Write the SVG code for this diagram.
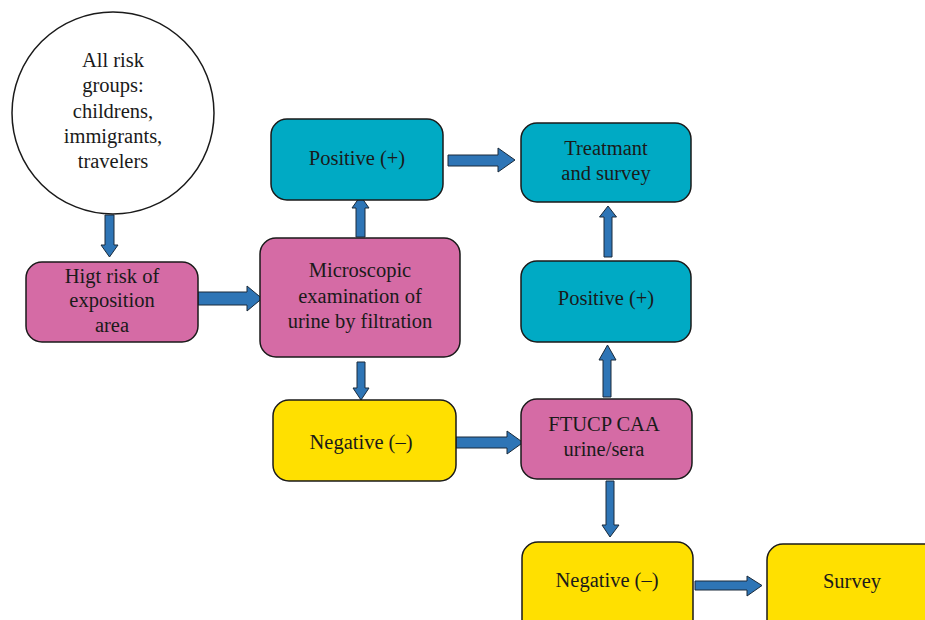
<svg xmlns="http://www.w3.org/2000/svg" width="925" height="620" viewBox="0 0 925 620">
<defs>
<style>
.box{stroke:#1a1a1a;stroke-width:1.5}
.pink{fill:#D56BA5}
.cyan{fill:#00AAC4}
.yellow{fill:#FFE000}
.white{fill:#ffffff}
.arrow{fill:#2E75B6;stroke:#1a2a3a;stroke-width:1}
text{font-family:"Liberation Serif","Times New Roman",serif;font-size:20.5px;fill:#1a1a1a;text-anchor:middle}
</style>
</defs>
<rect width="925" height="620" fill="#ffffff"/>
<g id="connectors">
<polygon class="arrow" points="105,215 114,215 114,245 118,245 109.5,257 101,245 105,245"/>
<polygon class="arrow" points="198,292 247,292 247,286 262,298.5 247,311 247,305 198,305"/>
<polygon class="arrow" points="356,237 356,208 352,208 360.5,196 369,208 365,208 365,237"/>
<polygon class="arrow" points="448,155 498,155 498,148 515,160 498,172 498,166 448,166"/>
<polygon class="arrow" points="604,257 604,217 599.5,217 608,206 616.5,217 612,217 612,257"/>
<polygon class="arrow" points="357,362 365,362 365,388 369,388 361,400 353,388 357,388"/>
<polygon class="arrow" points="456,437 507,437 507,431 523,442.5 507,454 507,448 456,448"/>
<polygon class="arrow" points="603,397 603,360 599,360 607.5,345 616,360 611,360 611,397"/>
<polygon class="arrow" points="606,481 614,481 614,525 619,525 610,537 602,525 606,525"/>
<polygon class="arrow" points="695,581 747,581 747,576 762,585.5 747,596 747,590 695,590"/>
</g>
<g id="risk-groups">
<circle class="box white" cx="113" cy="113" r="101"/>
<text x="113" y="67">All risk</text>
<text x="113" y="92">groups:</text>
<text x="113" y="118">childrens,</text>
<text x="113" y="143">immigrants,</text>
<text x="113" y="168">travelers</text>
</g>
<g id="high-risk">
<rect class="box pink" x="26" y="262" width="172" height="80" rx="16"/>
<text x="112" y="283">Higt risk of</text>
<text x="112" y="307">exposition</text>
<text x="112" y="332">area</text>
</g>
<g id="microscopic">
<rect class="box pink" x="260" y="238" width="200" height="119" rx="16"/>
<text x="360" y="277">Microscopic</text>
<text x="360" y="303">examination of</text>
<text x="360" y="328">urine by filtration</text>
</g>
<g id="positive1">
<rect class="box cyan" x="271" y="119" width="172" height="81" rx="16"/>
<text x="357" y="165">Positive (+)</text>
</g>
<g id="treatment">
<rect class="box cyan" x="521" y="123" width="170" height="79" rx="16"/>
<text x="606" y="155">Treatmant</text>
<text x="606" y="180">and survey</text>
</g>
<g id="positive2">
<rect class="box cyan" x="521" y="261" width="170" height="81" rx="16"/>
<text x="606" y="305">Positive (+)</text>
</g>
<g id="negative1">
<rect class="box yellow" x="273" y="400" width="183" height="81" rx="16"/>
<text x="361" y="449">Negative (–)</text>
</g>
<g id="ftucp">
<rect class="box pink" x="521" y="399" width="171" height="80" rx="16"/>
<text x="604" y="431">FTUCP CAA</text>
<text x="604" y="456">urine/sera</text>
</g>
<g id="negative2">
<rect class="box yellow" x="522" y="542" width="171" height="100" rx="16"/>
<text x="607" y="587">Negative (–)</text>
</g>
<g id="survey">
<rect class="box yellow" x="767" y="544" width="180" height="100" rx="16"/>
<text x="852" y="588">Survey</text>
</g>
</svg>
